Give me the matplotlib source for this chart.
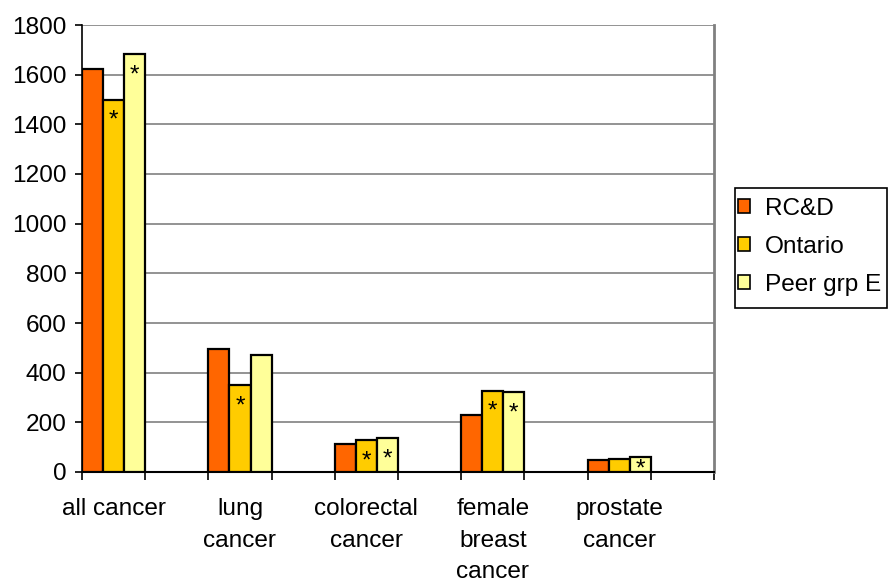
import numpy as np
import matplotlib
matplotlib.use('Agg')
import matplotlib.pyplot as plt
from matplotlib.patches import Patch, Rectangle

# Datos por tipo de cancer
categorias = ['all cancer', 'lung\ncancer', 'colorectal\ncancer', 'female\nbreast\ncancer', 'prostate\ncancer']
series = ['RC&D', 'Ontario', 'Peer grp E']
rcd = [1623, 494, 114, 228, 47]
ontario = [1499, 349, 129, 327, 54]
peer = [1683, 472, 137, 321, 62]
# Marcas de diferencia significativa (*) por serie
sig_rcd = [False, False, False, False, False]
sig_ontario = [True, True, True, True, False]
sig_peer = [True, False, True, True, True]

colores = ['#FF6600', '#FFCC00', '#FFFF99']

plt.rcParams['font.family'] = ['Liberation Sans', 'DejaVu Sans']
fs = 17.6

fig = plt.figure(figsize=(8.93, 5.8), dpi=100)
ax = fig.add_axes([82 / 893, 1 - 472 / 580, (714 - 82) / 893, (472 - 25) / 580])

# Cada categoria ocupa una ranura y se deja una ranura vacia entre ellas
n_slots = 2 * len(categorias)
ancho = 1.0 / 3
valores = [rcd, ontario, peer]
marcas = [sig_rcd, sig_ontario, sig_peer]
for k, (vals, sig) in enumerate(zip(valores, marcas)):
    x = np.arange(len(categorias)) * 2 + k * ancho
    ax.bar(x, vals, width=ancho, align='edge', color=colores[k],
           edgecolor='black', linewidth=1.6, zorder=3)
    for xi, v, s in zip(x, vals, sig):
        if s:
            ax.text(xi + ancho / 2, v - min(85, v * 0.85), '*', ha='center', va='center',
                    fontsize=fs, zorder=4)

ax.set_xlim(0, n_slots)
ax.set_ylim(0, 1800)
ax.set_yticks(np.arange(0, 1801, 200))
ax.yaxis.grid(True, color='#808080', linewidth=1.2, zorder=0)
ax.set_axisbelow(True)

ax.set_xticks(np.arange(len(categorias)) * 2 + 0.5)
ax.set_xticklabels(categorias, fontsize=fs, linespacing=1.54, va='top')
ax.set_xticks(np.arange(n_slots + 1), minor=True)
ax.tick_params(axis='x', which='major', length=0, pad=19)
ax.tick_params(axis='x', which='minor', length=6, width=1.2, direction='out')
ax.tick_params(axis='y', labelsize=fs, length=5, width=1.2, direction='out', pad=6)

ax.spines['top'].set_visible(False)
ax.spines['right'].set_color('#808080')
ax.spines['right'].set_linewidth(2)
ax.spines['left'].set_linewidth(1.2)
ax.spines['bottom'].set_linewidth(1.5)

# Leyenda con marco dibujado aparte
marco = Rectangle((735 / 893, 1 - 308 / 580), 152 / 893, 120 / 580, transform=fig.transFigure,
                  fill=False, edgecolor='black', linewidth=1.2)
fig.patches.append(marco)
handles = [Patch(facecolor=c, edgecolor='black', linewidth=1.2) for c in colores]
leg = fig.legend(handles, series, loc='center left', bbox_to_anchor=(738 / 893, 1 - 247 / 580),
                 fontsize=fs, frameon=False,
                 handlelength=0.5, handleheight=0.5, handletextpad=0.6,
                 labelspacing=0.65, borderpad=0, borderaxespad=0)

plt.savefig('out.png', dpi=100)
